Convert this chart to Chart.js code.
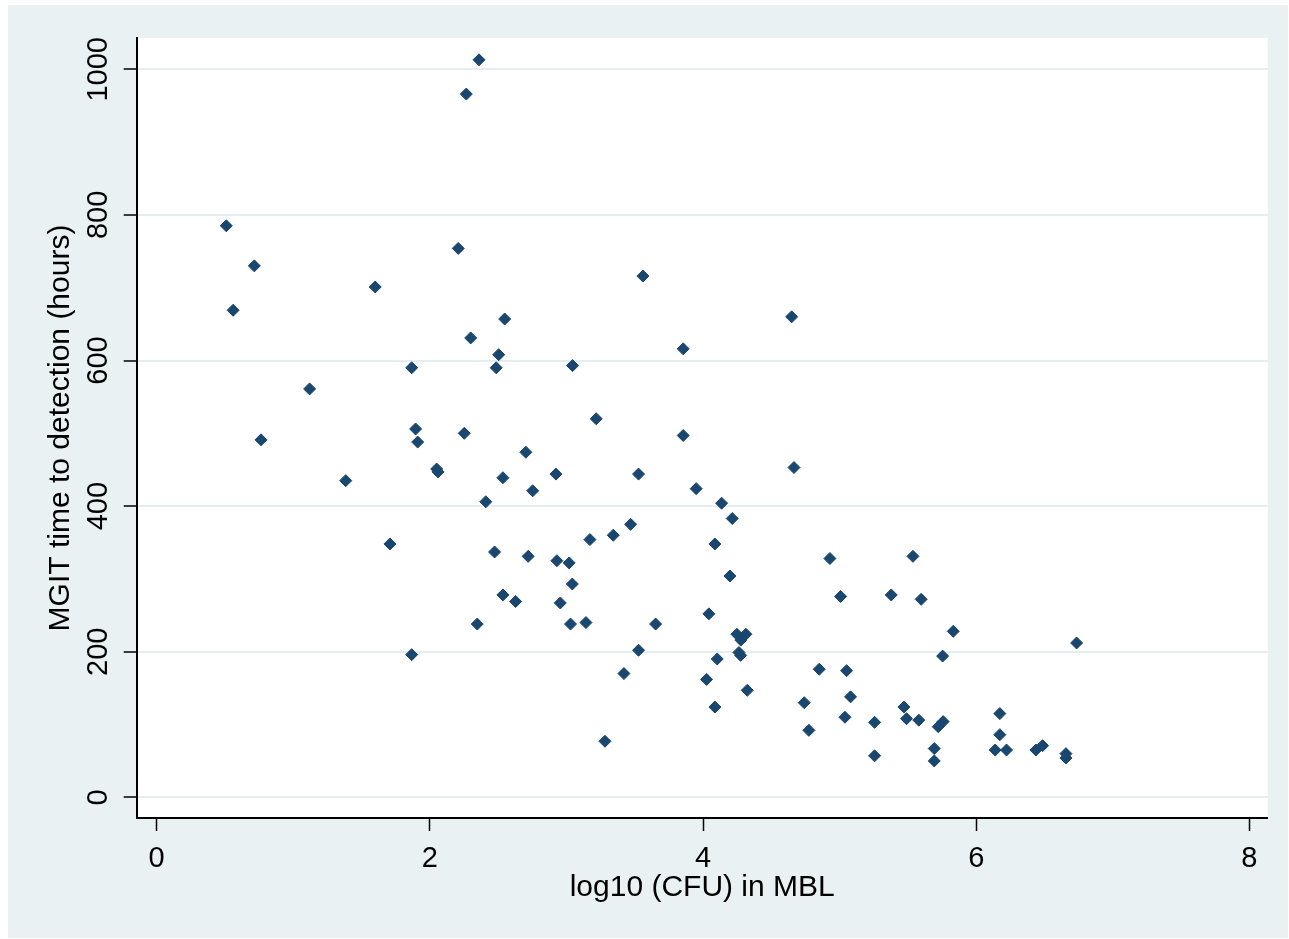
<!DOCTYPE html>
<html>
<head>
<meta charset="utf-8">
<script src="https://cdn.jsdelivr.net/npm/chart.js@4.4.0/dist/chart.umd.min.js"></script>
<style>
  html, body { margin: 0; padding: 0; background: #fff; }
  #panel { position: absolute; left: 8px; top: 5px; width: 1280px; height: 933px; background: #e9f1f3; }
  canvas { display: block; }
</style>
</head>
<body>
<div id="panel"><canvas id="chart" width="1280" height="933"></canvas></div>
<script>
Chart.defaults.devicePixelRatio = 1;
Chart.defaults.responsive = false;
Chart.defaults.maintainAspectRatio = false;
Chart.defaults.animation = false;

// log10 (CFU) in MBL
const logCfu = [
  0.51, 0.56, 0.715, 0.764, 1.12, 1.384, 1.60, 1.708, 1.867, 1.867,
  1.896, 1.911, 2.05, 2.06, 2.208, 2.252, 2.267, 2.299, 2.347, 2.36,
  2.41, 2.474, 2.486, 2.504, 2.535, 2.535, 2.548, 2.628, 2.703, 2.72,
  2.753, 2.923, 2.93, 2.955, 3.02, 3.03, 3.043, 3.045, 3.143, 3.172,
  3.218, 3.282, 3.343, 3.421, 3.47, 3.528, 3.528, 3.56, 3.653, 3.855,
  3.855, 3.95, 4.026, 4.043, 4.087, 4.087, 4.104, 4.136, 4.197, 4.214,
  4.248, 4.314, 4.277, 4.263, 4.275, 4.324, 4.649, 4.666, 4.741, 4.775,
  4.851, 4.929, 5.007, 5.039, 5.051, 5.08, 5.256, 5.256, 5.378, 5.471,
  5.49, 5.537, 5.58, 5.597, 5.693, 5.693, 5.722, 5.754, 5.758, 5.832,
  6.139, 6.173, 6.173, 6.222, 6.437, 6.486, 6.657, 6.657, 6.735
];
// MGIT time to detection (hours)
const ttdHours = [
  785, 669, 730, 491, 561, 435, 701, 348, 590, 196,
  506, 488, 451, 447, 754, 500, 966, 631, 238, 1013,
  406, 337, 590, 608, 439, 278, 657, 269, 474, 331,
  421, 444, 325, 267, 322, 238, 293, 593, 240, 354,
  520, 77, 360, 170, 375, 444, 202, 716, 238, 616,
  497, 424, 162, 252, 348, 124, 190, 404, 304, 383,
  224, 224, 216, 199, 195, 147, 660, 453, 130, 92,
  176, 328, 276, 110, 174, 138, 103, 57, 278, 124,
  108, 331, 106, 272, 67, 50, 97, 194, 104, 228,
  65, 115, 86, 65, 65, 71, 60, 54, 212
];
const xTicks = [0, 2, 4, 6, 8];
const yTicks = [0, 200, 400, 600, 800, 1000];

const FONT = "'Liberation Sans', Arial, sans-serif";
const points = logCfu.map((x, i) => ({ x: x, y: ttdHours[i] }));

const stataPlot = {
  id: "stataPlot",
  beforeDraw(chart) {
    const { ctx, chartArea } = chart;
    ctx.save();
    ctx.fillStyle = "#ffffff";
    ctx.fillRect(chartArea.left, chartArea.top, chartArea.right - chartArea.left, chartArea.bottom - chartArea.top);
    ctx.restore();
  },
  afterDraw(chart) {
    const { ctx } = chart;
    const xs = chart.scales.x;
    const ys = chart.scales.y;
    ctx.save();
    ctx.fillStyle = "#000";
    ctx.font = "29px " + FONT;
    ctx.textAlign = "center";
    ctx.textBaseline = "alphabetic";
    xTicks.forEach((v) => {
      ctx.fillText(String(v), xs.getPixelForValue(v), 862);
    });
    yTicks.forEach((v) => {
      ctx.save();
      ctx.translate(99, ys.getPixelForValue(v));
      ctx.rotate(-Math.PI / 2);
      ctx.fillText(String(v), 0, 0);
      ctx.restore();
    });
    ctx.restore();
  },
};

new Chart(document.getElementById("chart").getContext("2d"), {
  type: "scatter",
  data: {
    datasets: [{
      data: points,
      pointStyle: "rectRot",
      pointRadius: 6,
      pointBorderWidth: 1,
      backgroundColor: "#1a476f",
      borderColor: "#1a476f",
    }],
  },
  options: {
    responsive: false,
    maintainAspectRatio: false,
    layout: { padding: { top: 33, right: 20.3, left: 0, bottom: 0 } },
    plugins: { legend: { display: false }, tooltip: { enabled: false } },
    scales: {
      x: {
        type: "linear",
        min: -0.146,
        max: 8.134,
        afterBuildTicks: (s) => { s.ticks = xTicks.map((v) => ({ value: v })); },
        afterFit: (s) => { s.height = 120; },
        ticks: { display: false },
        grid: { drawOnChartArea: false, tickLength: 13, tickColor: "#000", tickWidth: 1.5 },
        border: { color: "#000", width: 2 },
        title: {
          display: true,
          text: "log10 (CFU) in MBL",
          color: "#000",
          font: { family: FONT, size: 30 },
          padding: { top: 0, bottom: 32.6 },
        },
      },
      y: {
        type: "linear",
        min: -28.4,
        max: 1043,
        afterBuildTicks: (s) => { s.ticks = yTicks.map((v) => ({ value: v })); },
        afterFit: (s) => { s.width = 128.7; },
        ticks: { display: false },
        grid: { color: "#e4edf0", lineWidth: 2, tickLength: 13, tickColor: "#000", tickWidth: 1.5 },
        border: { color: "#000", width: 2 },
        title: {
          display: true,
          text: "MGIT time to detection (hours)",
          color: "#000",
          font: { family: FONT, size: 30 },
          padding: { top: 34.6, bottom: 0 },
        },
      },
    },
  },
  plugins: [stataPlot],
});
</script>
</body>
</html>
